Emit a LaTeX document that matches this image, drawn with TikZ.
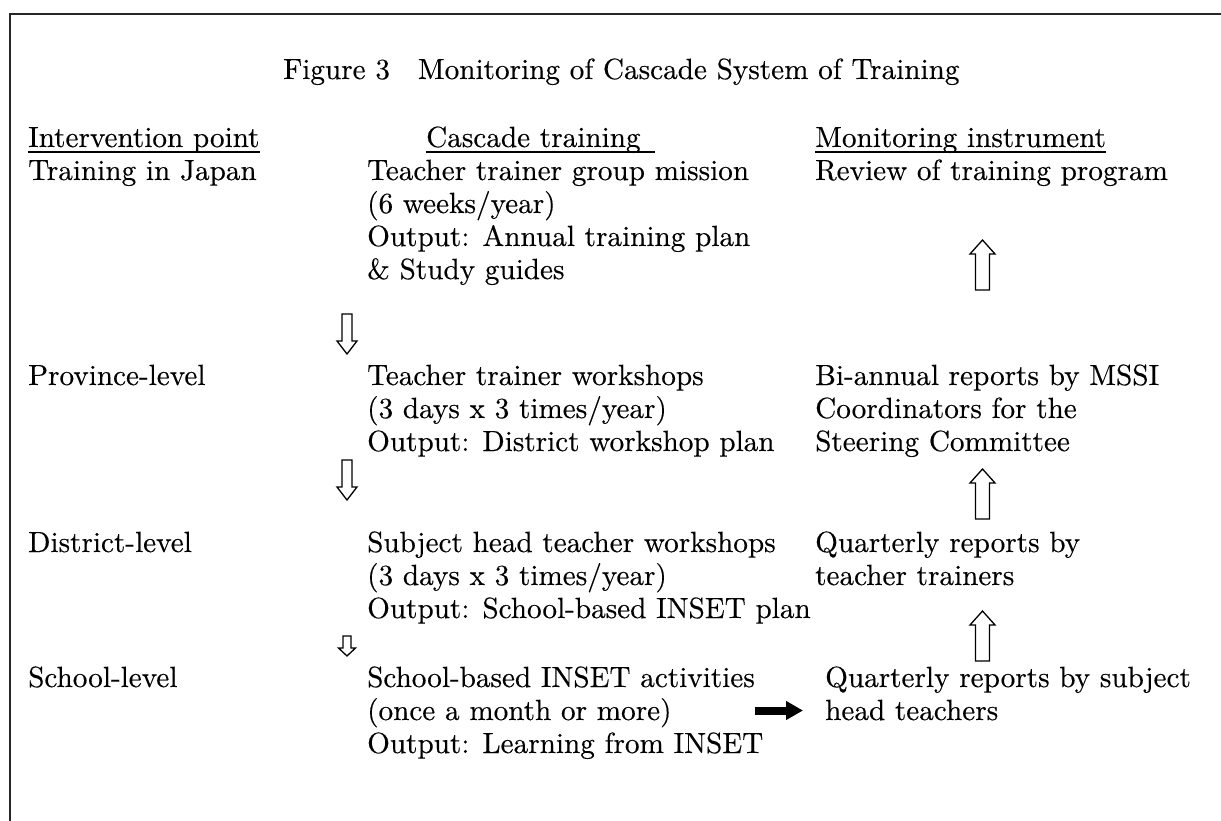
\documentclass[tikz,border=0pt]{standalone}
\usepackage{fontspec}
\setmainfont{lmroman10-regular}[Extension=.otf, FakeBold=0.3]
\usetikzlibrary{calc,arrows.meta}
\tikzset{
  pics/blockarrow/.style args={#1/#2/#3/#4}{code={
    % hollow block arrow, tip at the origin, pointing down:
    % #1 head width, #2 shaft width, #3 head length, #4 total length
    \draw[hollow] (0,0) -- (#1/2,-#3) -- (#2/2,-#3) -- (#2/2,-#4)
      -- (-#2/2,-#4) -- (-#2/2,-#3) -- (-#1/2,-#3) -- cycle;
  }}
}
\begin{document}
\begin{tikzpicture}[x=1pt,y=-1pt,
  txt/.style={anchor=base west, inner sep=0pt, font=\fontsize{29.2pt}{33pt}\selectfont},
  frameline/.style={line width=2pt, draw=black!85},
  uline/.style={line width=1.4pt},
  hollow/.style={draw=black, fill=white, line width=1.3pt, line join=miter},
  solidarrow/.style={line width=8pt, -{Triangle[length=17pt,width=18pt]}},
]
\useasboundingbox (0,0) rectangle (1221,821);
% frame
\draw[frameline] (10,821) -- (10,14) -- (1221,14);

% title
\node[txt] (title) at (283,79) {Figure 3\hspace{28pt}Monitoring of Cascade System of Training};

% column headings
\node[txt] (hint) at (28,147) {Intervention point};
\node[txt] (hcas) at (426,147) {Cascade training};
\node[txt] (hmon) at (815,147) {Monitoring instrument};
\draw[uline] ($(hint.base west)+(0,5)$) -- ($(hint.base east)+(0,5)$);
\draw[uline] ($(hcas.base west)+(0,5)$) -- ($(hcas.base east)+(14,5)$);
\draw[uline] ($(hmon.base west)+(0,5)$) -- ($(hmon.base east)+(0,5)$);

% intervention points
\node[txt] (c1a) at (28,180) {Training in Japan};
\node[txt] (c1b) at (28,385) {Province-level};
\node[txt] (c1c) at (28,552) {District-level};
\node[txt] (c1d) at (28,687) {School-level};

% cascade training
\node[txt] (c2a1) at (367,180) {Teacher trainer group mission};
\node[txt] (c2a2) at (367,213) {(6 weeks/year)};
\node[txt] (c2a3) at (367,246) {Output: Annual training plan};
\node[txt] (c2a4) at (367,279) {\& Study guides};
\node[txt] (c2b1) at (367,385) {Teacher trainer workshops};
\node[txt] (c2b2) at (367,418) {(3 days x 3 times/year)};
\node[txt] (c2b3) at (367,451) {Output: District workshop plan};
\node[txt] (c2c1) at (367,552) {Subject head teacher workshops};
\node[txt] (c2c2) at (367,585) {(3 days x 3 times/year)};
\node[txt] (c2c3) at (367,618) {Output: School-based INSET plan};
\node[txt] (c2d1) at (367,687) {School-based INSET activities};
\node[txt] (c2d2) at (367,720) {(once a month or more)};
\node[txt] (c2d3) at (367,753) {Output: Learning from INSET};

% monitoring instruments
\node[txt] (c3a)  at (815,180) {Review of training program};
\node[txt] (c3b1) at (815,385) {Bi-annual reports by MSSI};
\node[txt] (c3b2) at (815,418) {Coordinators for the};
\node[txt] (c3b3) at (815,451) {Steering Committee};
\node[txt] (c3c1) at (815,552) {Quarterly reports by};
\node[txt] (c3c2) at (815,585) {teacher trainers};
\node[txt] (c3d1) at (825,687) {Quarterly reports by subject};
\node[txt] (c3d2) at (825,720) {head teachers};

% cascade arrows (down)
\pic at (347,354) {blockarrow=20/10/13/40};
\pic at (347,500) {blockarrow=20/10/13/40};
\pic at (347,656) {blockarrow=17/8/8/20};

% reporting arrows (up)
\pic[rotate=180] at (982.5,240) {blockarrow=25/14/14/50};
\pic[rotate=180] at (982.5,469) {blockarrow=25/14/14/50};
\pic[rotate=180] at (982.5,611) {blockarrow=25/14/14/50};

% school activities feed the subject head teacher reports
\coordinate (bk0) at (755,710.5);
\coordinate (bk1) at (803,710.5);
\draw[solidarrow] (bk0) -- (bk1);
\end{tikzpicture}
\end{document}
